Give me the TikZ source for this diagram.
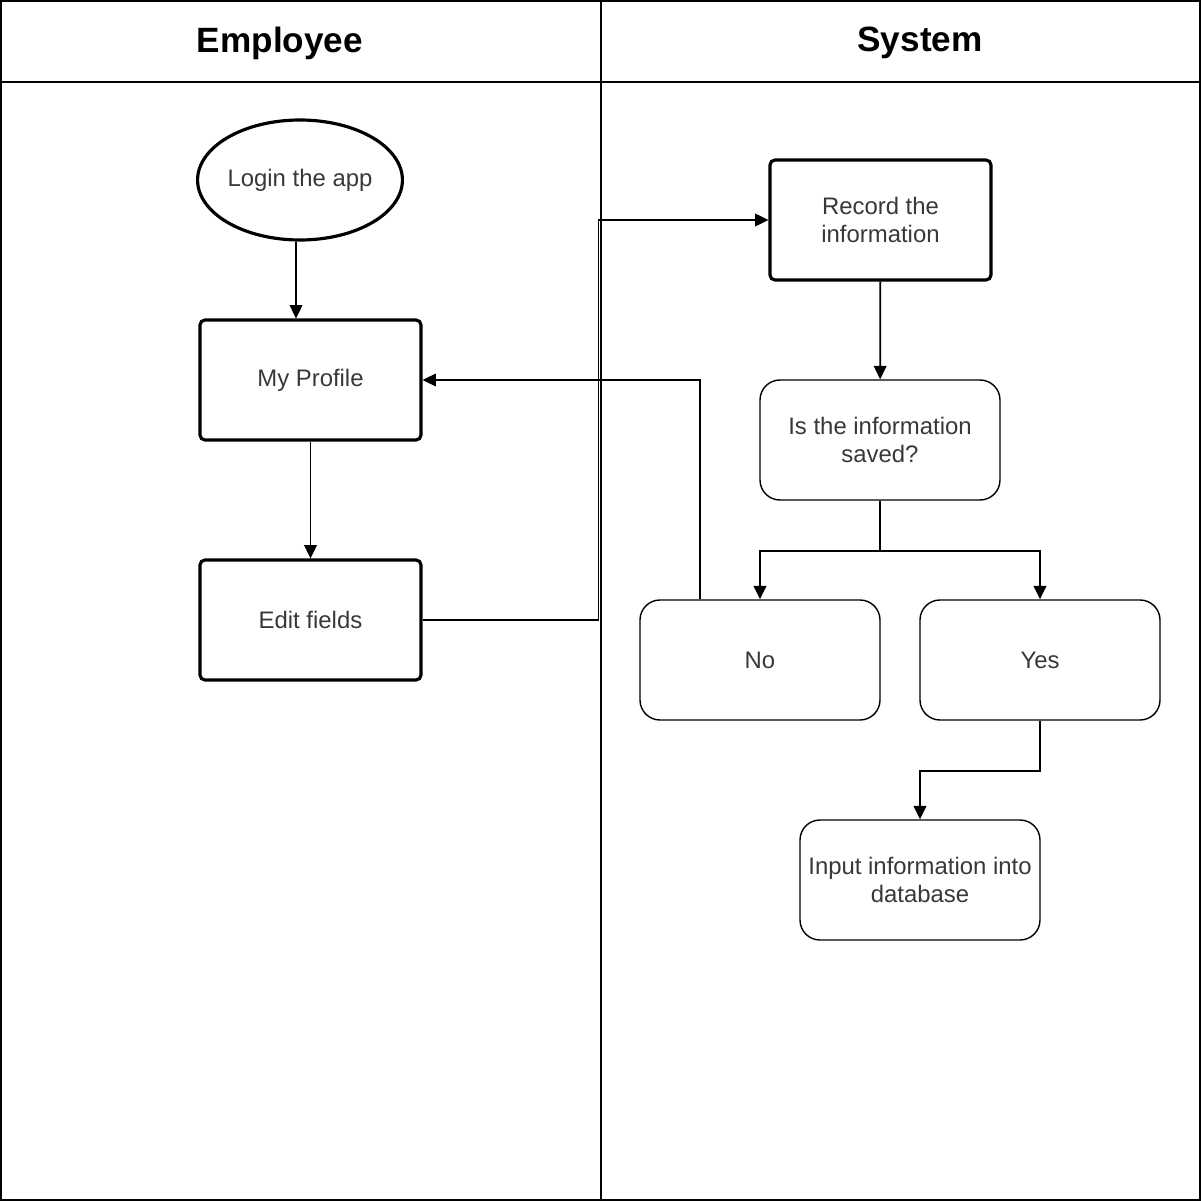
\documentclass[tikz,border=0pt]{standalone}
\usepackage{fontspec}
\setmainfont{Liberation Sans}
\usetikzlibrary{arrows.meta,shapes.geometric}
\begin{document}
\begin{tikzpicture}[>={Triangle[length=3.8pt,width=3.6pt]}, line width=0.5pt,
  txt/.style={text=black!78, font=\fontsize{6.8}{8.1}\selectfont, align=center, inner sep=0pt},
  box/.style={txt, draw, line width=0.9pt, rounded corners=0.05cm, minimum width=2.21cm, minimum height=1.2cm},
  rbox/.style={txt, draw, line width=0.4pt, rounded corners=0.2cm, minimum width=2.4cm, minimum height=1.2cm},
  lane/.style={font=\bfseries\fontsize{10}{12}\selectfont}]
\useasboundingbox (0,0) rectangle (12.01,-12.01);
% lanes
\draw[line width=0.6pt] (0.01,-0.01) rectangle (12,-12);
\draw (6.01,0) -- (6.01,-12);
\draw[line width=0.7pt] (0,-0.82) -- (12,-0.82);
\node[lane](H1) at (2.8,-0.43){Employee};
\node[lane](H2) at (9.2,-0.43){System};
% employee
\node[txt, draw, ellipse, line width=0.9pt, minimum width=2cm, minimum height=1.2cm](L) at (3,-1.8){Login the app};
\node[box](P) at (3.105,-3.8){My Profile};
\node[box](E) at (3.105,-6.2){Edit fields};
% system
\node[box](R) at (8.805,-2.2){Record the\\information};
\node[rbox](Q) at (8.8,-4.4){Is the information\\saved?};
\node[rbox](N) at (7.6,-6.6){No};
\node[rbox](Y) at (10.4,-6.6){Yes};
\node[rbox](D) at (9.2,-8.8){Input information into\\database};
% connectors
\draw[->]([xshift=-0.04cm]L.south)--([xshift=-0.04cm]L.south |- P.north);
\draw[->](P)--(E);
\draw[->](E.east)--++(1.76,0)|-(R.west);
\draw[->]([xshift=-0.6cm]N.north)|-(P.east);
\draw[->](R)--(Q);
\draw[->](Q.south)--++(0,-0.5)-|(N.north);
\draw[->](Q.south)--++(0,-0.5)-|(Y.north);
\draw[->](Y.south)--++(0,-0.5)-|(D.north);
\end{tikzpicture}
\end{document}
